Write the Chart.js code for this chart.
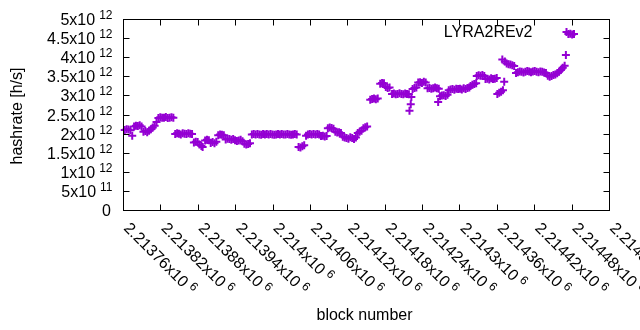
<!DOCTYPE html>
<html>
<head>
<meta charset="utf-8">
<script src="https://cdn.jsdelivr.net/npm/chart.js@4.4.0/dist/chart.umd.min.js"></script>
<style>html,body{margin:0;padding:0;background:#fff}</style>
</head>
<body>
<canvas id="hashChart" width="640" height="330"></canvas>
<script>
// block numbers and hashrate (in 10^12 h/s)
const blockNumbers = [
  2213762, 2213765, 2213768, 2213771, 2213774,
  2213777, 2213780, 2213783, 2213786, 2213789,
  2213792, 2213795, 2213798, 2213801,
  2213804, 2213807, 2213810, 2213813,
  2213816, 2213819, 2213822, 2213825, 2213828, 2213831, 2213834, 2213837, 2213840,
  2213843, 2213846, 2213849, 2213852, 2213855, 2213858, 2213861, 2213864, 2213867, 2213870,
  2213873, 2213876, 2213879,
  2213882, 2213885, 2213887,
  2213891, 2213894, 2213897,
  2213900, 2213903, 2213906, 2213909,
  2213912, 2213915, 2213918, 2213921,
  2213924, 2213927, 2213930, 2213933, 2213936,
  2213939, 2213942, 2213945, 2213948, 2213951,
  2213954, 2213957, 2213960, 2213963,
  2213966, 2213969, 2213972, 2213975, 2213978, 2213981, 2213984, 2213987, 2213990, 2213993,
  2213996, 2213999, 2214002, 2214005, 2214008, 2214011, 2214014, 2214017, 2214020, 2214023,
  2214026, 2214029, 2214032, 2214035, 2214038,
  2214041, 2214044, 2214047, 2214050,
  2214053, 2214056, 2214059, 2214062, 2214065, 2214068, 2214071, 2214074,
  2214077, 2214080, 2214083, 2214086,
  2214088, 2214091, 2214094, 2214097,
  2214100, 2214103, 2214106, 2214109,
  2214112, 2214115, 2214118, 2214121, 2214124, 2214127, 2214130, 2214133,
  2214136, 2214139, 2214142,
  2214145, 2214148, 2214151,
  2214156, 2214159, 2214162, 2214165, 2214168,
  2214172, 2214175, 2214178,
  2214181, 2214184, 2214187,
  2214191, 2214194, 2214197, 2214200, 2214203, 2214206, 2214209, 2214212, 2214215, 2214218,
  2214219, 2214221, 2214222,
  2214224, 2214227, 2214230,
  2214233, 2214236, 2214239, 2214242, 2214245,
  2214248, 2214251, 2214254, 2214257, 2214260, 2214263, 2214266,
  2214265,
  2214268, 2214271, 2214274, 2214277, 2214280,
  2214282, 2214285, 2214288, 2214291, 2214294,
  2214297, 2214300, 2214303, 2214306, 2214309, 2214312, 2214315,
  2214317, 2214320, 2214323, 2214326,
  2214327, 2214330, 2214333, 2214336, 2214339,
  2214341, 2214344, 2214347, 2214350, 2214353, 2214356, 2214359,
  2214360, 2214363, 2214366, 2214369,
  2214368, 2214372,
  2214371,
  2214375, 2214378, 2214381, 2214384, 2214387,
  2214390, 2214393, 2214396, 2214399, 2214402, 2214405, 2214408, 2214411, 2214414,
  2214417, 2214420, 2214423, 2214426, 2214429, 2214432, 2214435, 2214438,
  2214441, 2214444, 2214447, 2214450,
  2214453, 2214456, 2214459, 2214462, 2214465, 2214468,
  2214470,
  2214471, 2214474, 2214477, 2214480, 2214483
];
const hashrateT = [
  2.11, 2.13, 2.12, 2.10, 1.96,
  2.20, 2.22, 2.21, 2.23, 2.20,
  2.06, 2.08, 2.05, 2.09,
  2.13, 2.17, 2.22, 2.32,
  2.42, 2.44, 2.43, 2.43, 2.45, 2.42, 2.43, 2.44, 2.43,
  2.00, 2.02, 2.01, 1.99, 2.02, 2.01, 2.00, 2.02, 2.01, 2.00,
  1.78, 1.80, 1.79,
  1.73, 1.69, 1.66,
  1.83, 1.85, 1.84,
  1.77, 1.79, 1.76, 1.80,
  1.97, 1.99, 1.98, 1.97,
  1.86, 1.88, 1.87, 1.85, 1.87,
  1.84, 1.82, 1.83, 1.85, 1.81,
  1.75, 1.73, 1.74, 1.76,
  1.99, 2.00, 1.99, 2.00, 1.99, 1.98, 2.00, 1.99, 2.00, 1.99,
  2.00, 1.99, 1.98, 1.99, 2.00, 1.99, 2.00, 1.99, 1.99, 2.00,
  1.99, 1.98, 1.99, 2.00, 1.99,
  1.66, 1.65, 1.68, 1.71,
  1.96, 1.99, 2.00, 1.99, 2.00, 1.99, 2.00, 1.99,
  1.95, 1.96, 1.94, 1.95,
  2.15, 2.17, 2.16, 2.14,
  2.06, 2.04, 2.05, 2.03,
  1.93, 1.91, 1.90, 1.88, 1.92, 1.90, 1.87, 1.91,
  2.03, 2.06, 2.09,
  2.15, 2.18, 2.20,
  2.90, 2.92, 2.93, 2.91, 2.93,
  3.32, 3.34, 3.33,
  3.23, 3.21, 3.22,
  3.05, 3.06, 3.04, 3.05, 3.07, 3.05, 3.04, 3.06, 3.05, 3.04,
  2.61, 2.78, 2.97,
  3.18, 3.21, 3.22,
  3.35, 3.36, 3.34, 3.37, 3.35,
  3.20, 3.21, 3.19, 3.20, 3.22, 3.20, 3.19,
  2.84,
  2.99, 3.01, 3.02, 3.00, 3.03,
  3.15, 3.17, 3.18, 3.16, 3.19,
  3.18, 3.19, 3.17, 3.20, 3.18, 3.21, 3.22,
  3.26, 3.29, 3.31, 3.33,
  3.52, 3.54, 3.53, 3.55, 3.52,
  3.44, 3.45, 3.43, 3.46, 3.44, 3.45, 3.47,
  3.05, 3.08, 3.11, 3.15,
  3.95, 3.90,
  3.37,
  3.85, 3.83, 3.82, 3.80, 3.78,
  3.60, 3.62, 3.64, 3.63, 3.61, 3.63, 3.65, 3.64, 3.62,
  3.64, 3.65, 3.63, 3.62, 3.64, 3.63, 3.61, 3.60,
  3.53, 3.50, 3.52, 3.55,
  3.56, 3.59, 3.63, 3.68, 3.74, 3.79,
  4.07,
  4.67, 4.62, 4.63, 4.61, 4.62
];

const xTicks = [2213760, 2213820, 2213880, 2213940, 2214000, 2214060, 2214120,
                2214180, 2214240, 2214300, 2214360, 2214420, 2214480, 2214540];
const yTicks = [0, 0.5e12, 1e12, 1.5e12, 2e12, 2.5e12, 3e12, 3.5e12, 4e12, 4.5e12, 5e12];
const yTickMant = ['0', '5', '1', '1.5', '2', '2.5', '3', '3.5', '4', '4.5', '5'];
const yTickExp = ['', '11', '12', '12', '12', '12', '12', '12', '12', '12', '12'];

const FONT = '"Liberation Sans", Arial, sans-serif';
const PURPLE = '#9400d3';

function xLabel(b) {
  const s = String(b);
  return s[0] + '.' + s.slice(1).replace(/0+$/, '');
}

// gnuplot-like frame: inward mirrored ticks, superscript labels
const gnuFrame = {
  id: 'gnuFrame',
  afterDatasetsDraw(chart) {
    const { ctx, chartArea: a, scales: { x, y } } = chart;
    ctx.save();
    ctx.strokeStyle = '#000';
    ctx.lineWidth = 1;
    ctx.strokeRect(a.left, a.top, a.right - a.left, a.bottom - a.top);
    ctx.beginPath();
    yTicks.forEach(v => {
      const py = Math.round(y.getPixelForValue(v) - 0.5) + 0.5;
      ctx.moveTo(a.left, py); ctx.lineTo(a.left + 6, py);
      ctx.moveTo(a.right, py); ctx.lineTo(a.right - 6, py);
    });
    xTicks.forEach(b => {
      const px = Math.round(x.getPixelForValue(b) - 0.5) + 0.5;
      ctx.moveTo(px, a.bottom); ctx.lineTo(px, a.bottom - 6);
      ctx.moveTo(px, a.top); ctx.lineTo(px, a.top + 6);
    });
    ctx.stroke();

    ctx.fillStyle = '#000';
    ctx.textBaseline = 'alphabetic';
    // y labels
    yTicks.forEach((v, i) => {
      const py = y.getPixelForValue(v);
      const sup = yTickExp[i];
      if (!sup) {
        ctx.font = '16px ' + FONT;
        ctx.textAlign = 'right';
        ctx.fillText(yTickMant[i], 111, py + 5.5);
        return;
      }
      ctx.font = '12px ' + FONT;
      const sw = ctx.measureText(sup).width;
      ctx.textAlign = 'left';
      ctx.fillText(sup, 112.5 - sw, py - 0.5);
      ctx.font = '16px ' + FONT;
      ctx.textAlign = 'right';
      ctx.fillText(yTickMant[i] + 'x10', 112.5 - sw - 4, py + 5.5);
    });
    // x labels, rotated clockwise
    xTicks.forEach(b => {
      const px = x.getPixelForValue(b);
      ctx.save();
      ctx.translate(px - 0.5, 229);
      ctx.rotate(Math.PI / 4);
      ctx.textAlign = 'left';
      ctx.font = '16px ' + FONT;
      const t = xLabel(b) + 'x10';
      ctx.fillText(t, 0, 0);
      const w = ctx.measureText(t).width;
      ctx.font = '12px ' + FONT;
      ctx.fillText('6', w + 4, -5.5);
      ctx.restore();
    });
    // axis titles and key
    ctx.font = '16px ' + FONT;
    ctx.textAlign = 'center';
    ctx.fillText('block number', 364.5, 320);
    ctx.save();
    ctx.translate(21.5, 116);
    ctx.rotate(-Math.PI / 2);
    ctx.fillText('hashrate [h/s]', 0, 0);
    ctx.restore();
    ctx.textAlign = 'right';
    ctx.fillText('LYRA2REv2', 532.5, 36.5);
    ctx.restore();
  }
};

const points = blockNumbers.map((b, i) => ({ x: b, y: hashrateT[i] * 1e12 }));

new Chart(document.getElementById('hashChart'), {
  type: 'scatter',
  data: {
    datasets: [{
      label: 'LYRA2REv2',
      data: points,
      pointStyle: 'cross',
      pointRadius: 4,
      pointBorderWidth: 2,
      borderColor: PURPLE,
      backgroundColor: PURPLE,
      clip: false
    }]
  },
  options: {
    responsive: false,
    devicePixelRatio: 1,
    animation: false,
    layout: { padding: { left: 123.5, right: 30.5, top: 19.5, bottom: 119.5 } },
    plugins: { legend: { display: false }, tooltip: { enabled: false } },
    scales: {
      x: { type: 'linear', min: 2213760, max: 2214540, display: false },
      y: { min: 0, max: 5e12, display: false }
    }
  },
  plugins: [gnuFrame]
});
</script>
</body>
</html>
